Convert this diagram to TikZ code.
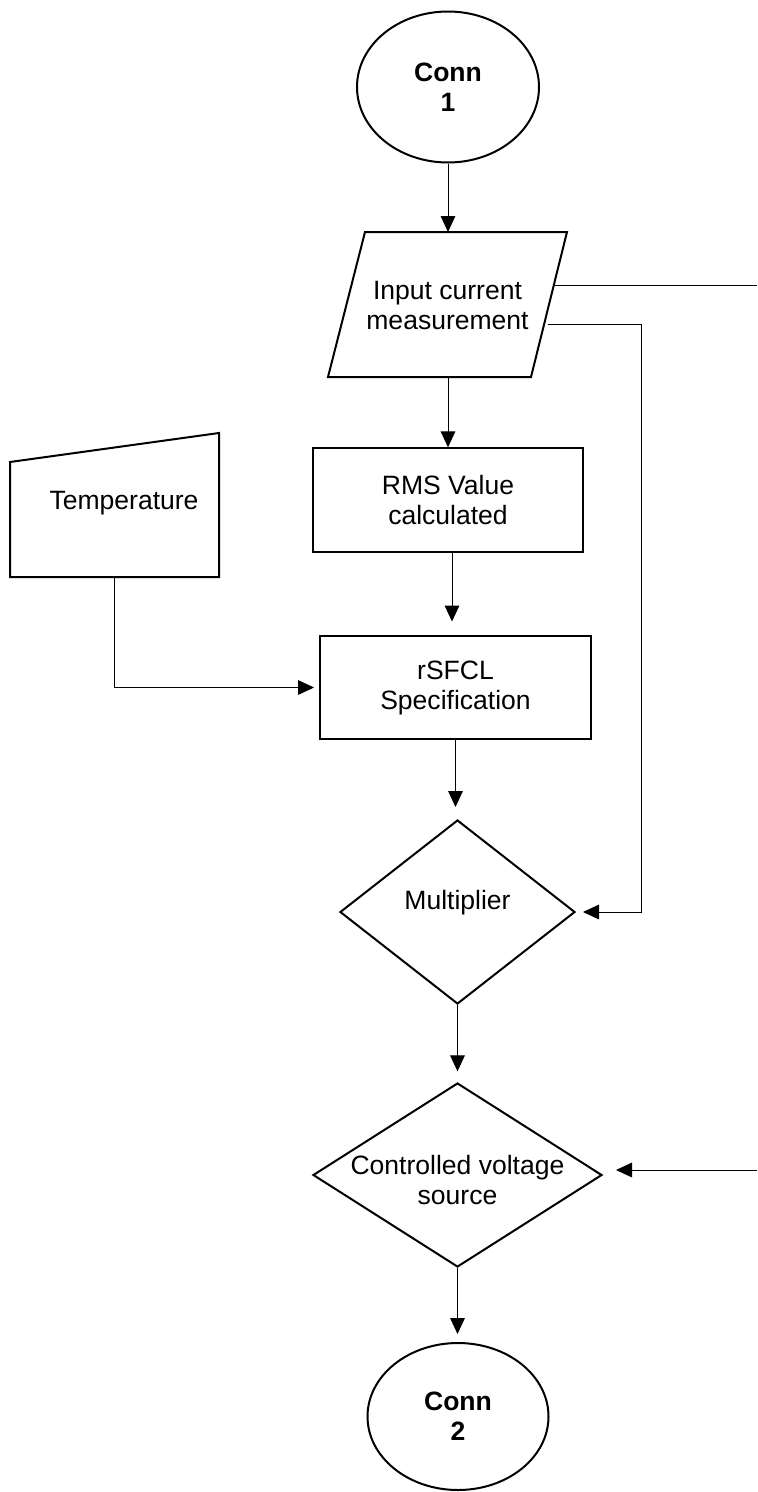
\documentclass[tikz,border=0pt]{standalone}
\usepackage{fontspec}
\setmainfont{Liberation Sans}
\usetikzlibrary{shapes.geometric,arrows.meta}

\begin{document}
\begin{tikzpicture}[x=0.75pt,y=-0.75pt,
	font=\fontsize{19.9}{22.5}\selectfont,
	box/.style={draw,line width=1.5pt,inner sep=0pt,align=center},
	conn/.style={box,ellipse,font=\fontsize{19.9}{22.5}\selectfont\bfseries},
	proc/.style={box,rectangle,minimum height=77.5pt},
	decision/.style={box,diamond,minimum height=138pt},
	line/.style={line width=0.75pt},
	arr/.style={line,-{Triangle[length=12pt,width=11pt]}}]
	\useasboundingbox (0,0) rectangle (757,1492);

	%connectors
	\node[conn,minimum width=136.5pt,minimum height=113.25pt] (conn1) at (448,87) {Conn\\1};
	\node[conn,minimum width=135.75pt,minimum height=110.25pt] (conn2) at (458,1416.5) {Conn\\2};

	%input current (parallelogram)
	\draw[line width=1.5pt] (365,232) -- (567,232) -- (531,377) -- (328,377) -- cycle;
	\node[align=center] (input) at (447.5,305) {Input current\\measurement};
	\coordinate (intop) at (448,232);
	\coordinate (inbot) at (448,377);

	%blocks
	\node[proc,minimum width=202.5pt] (rms) at (448,500) {RMS Value\\calculated};
	\node[proc,minimum width=203.25pt] (spec) at (455.5,687.5) {rSFCL\\Specification};
	\node[decision,minimum width=176.25pt] (mult) at (457.5,912) {};
	\node (multtext) at (457.5,903) {Multiplier};
	\node[decision,minimum width=216.75pt] (cvs) at (457.5,1175) {};
	\node[align=center] (cvstext) at (457.5,1180) {Controlled voltage\\source};

	%temperature input
	\draw[line width=1.5pt] (10,462) -- (219,433) -- (219,577) -- (10,577) -- cycle;
	\node (temp) at (124,503) {Temperature};
	\coordinate (tempout) at (114.5,577);

	%main flow
	\draw[arr] (conn1) -- (intop);
	\draw[arr] (inbot) -- (rms.north);
	\draw[arr,shorten >=10pt] ([xshift=3pt]rms.south) -- ([xshift=3pt]rms.south |- spec.north);
	\draw[arr,shorten >=9pt] (spec.south) -- (spec.south |- mult.north);
	\draw[arr,shorten >=8pt] (mult.south) -- (cvs.north);
	\draw[arr,shorten >=6pt] (cvs.south) -- (cvs.south |- conn2.north);
	\draw[arr,shorten >=3.75pt] (tempout) |- (spec.west);

	%current taps
	\coordinate (tapa) at (555,285);
	\coordinate (edgea) at (757,285);
	\coordinate (tapb) at (548,324);
	\coordinate (side) at (641,912);
	\coordinate (edgeb) at (757,1170);
	\draw[line] (tapa) -- (edgea);
	\draw[arr,shorten >=5.25pt] (tapb) -| (side) -- (mult.east);
	\draw[arr,shorten >=9.75pt] (edgeb) -- (cvs.east |- edgeb);
\end{tikzpicture}
\end{document}
